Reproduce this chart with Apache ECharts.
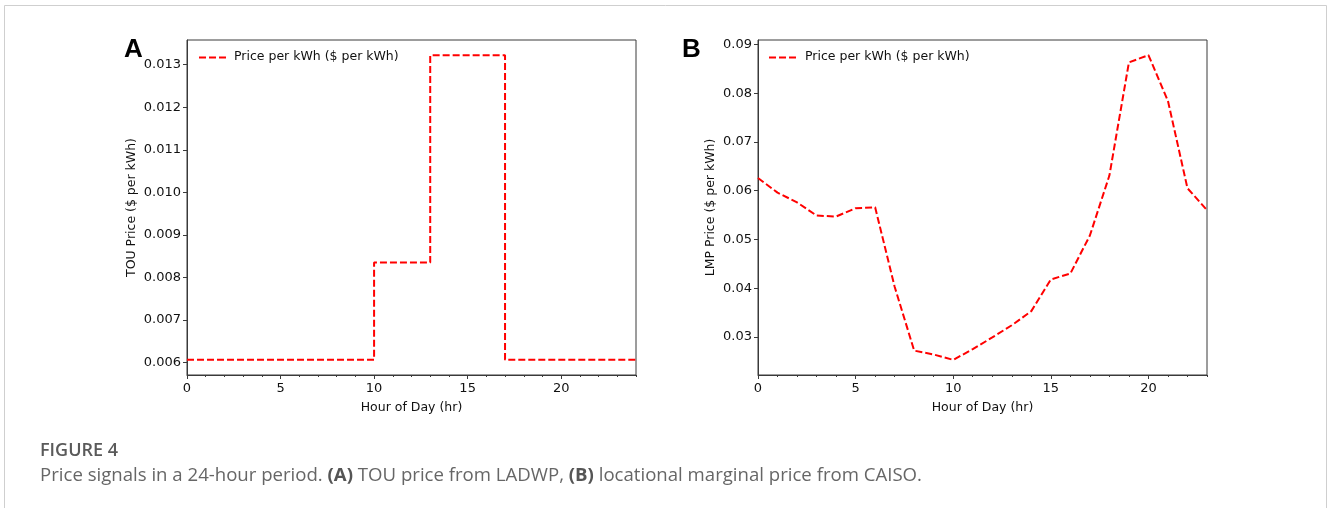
<!DOCTYPE html>
<html>
<head>
<meta charset="utf-8">
<script src="https://cdn.jsdelivr.net/npm/echarts@6/dist/echarts.min.js"></script>
<style>
html,body{margin:0;padding:0;background:#fff;}
#c{width:1328px;height:508px;}
</style>
</head>
<body>
<div id="c"></div>
<script>
// ---- Data ----
const seriesName = 'Price per kWh ($ per kWh)';
// Panel A: TOU price (step, value holds until next hour)
const touHours = [0,1,2,3,4,5,6,7,8,9,10,11,12,13,14,15,16,17,18,19,20,21,22,23,24];
const touPrice = [0.00607,0.00607,0.00607,0.00607,0.00607,0.00607,0.00607,0.00607,0.00607,0.00607,
                  0.00835,0.00835,0.00835,
                  0.01322,0.01322,0.01322,0.01322,
                  0.00607,0.00607,0.00607,0.00607,0.00607,0.00607,0.00607,0.00607];
// Panel B: LMP price
const lmpHours = [0,1,2,3,4,5,6,7,8,9,10,11,12,13,14,15,16,17,18,19,20,21,22,23];
const lmpPrice = [0.0626,0.0596,0.0576,0.0549,0.0547,0.0564,0.0566,0.0403,0.0272,0.0264,0.0253,0.0275,
                  0.0299,0.0324,0.0353,0.0418,0.0430,0.0508,0.0631,0.0863,0.0878,0.0784,0.0605,0.0560];
// Tick labels
const xTickLabels = [0,5,10,15,20];
const touTicks = [0.006,0.007,0.008,0.009,0.010,0.011,0.012,0.013];
const lmpTicks = [0.03,0.04,0.05,0.06,0.07,0.08,0.09];
const captionTitle = 'FIGURE 4';

const chart = echarts.init(document.getElementById('c'), null, {renderer:'canvas'});
const FONT = 'DejaVu Sans';
const frameColor = '#3a3a3a';
const red = '#ff0000';
const txt = '#111';

function xAxes(gridIndex, max){
  return [
    { type:'value', gridIndex, min:0, max:max, interval:1, position:'bottom',
      name:'Hour of Day (hr)', nameLocation:'middle', nameGap:26,
      nameTextStyle:{fontFamily:FONT,fontSize:12.5,color:txt},
      axisLine:{show:true,onZero:false,lineStyle:{color:frameColor,width:1}},
      axisTick:{show:true,length:2,lineStyle:{color:frameColor}},
      axisLabel:{show:true,customValues:xTickLabels,fontFamily:FONT,fontSize:13,color:txt,margin:7},
      splitLine:{show:false} },
    { type:'value', gridIndex, min:0, max:max, interval:1, position:'bottom',
      axisLine:{show:false,onZero:false},
      axisTick:{show:true,length:4,customValues:xTickLabels,lineStyle:{color:frameColor}},
      axisLabel:{show:false}, splitLine:{show:false} }
  ];
}
function yAxis(gridIndex, min, max, ticks, dec, name, gap){
  return { type:'value', gridIndex, min, max, position:'left',
    name, nameLocation:'middle', nameGap:gap,
    nameTextStyle:{fontFamily:FONT,fontSize:12.5,color:txt},
    axisLine:{show:true,onZero:false,lineStyle:{color:frameColor,width:1}},
    axisTick:{show:true,length:4,customValues:ticks,lineStyle:{color:frameColor}},
    axisLabel:{customValues:ticks,fontFamily:FONT,fontSize:13,color:txt,margin:6,
      formatter:v=>v.toFixed(dec)},
    splitLine:{show:false} };
}

const option = {
  backgroundColor:'#fff',
  animation:false,
  grid:[
    {left:187,top:40,width:449,height:335,show:true,borderColor:frameColor,borderWidth:1,backgroundColor:'transparent'},
    {left:758,top:40,width:449,height:335,show:true,borderColor:frameColor,borderWidth:1,backgroundColor:'transparent'}
  ],
  xAxis:[...xAxes(0,24), ...xAxes(1,23)],
  yAxis:[
    yAxis(0,0.00571,0.01358,touTicks,3,'TOU Price ($ per kWh)',49),
    yAxis(1,0.0222,0.0909,lmpTicks,2,'LMP Price ($ per kWh)',41)
  ],
  series:[
    { name:seriesName, type:'line', xAxisIndex:0, yAxisIndex:0, step:'end', symbol:'none',
      data:touHours.map((h,i)=>[h,touPrice[i]]),
      lineStyle:{color:red,width:2,type:[7,3]}, itemStyle:{color:red} },
    { name:seriesName, type:'line', xAxisIndex:2, yAxisIndex:1, symbol:'none',
      data:lmpHours.map((h,i)=>[h,lmpPrice[i]]),
      lineStyle:{color:red,width:2,type:[7,3]}, itemStyle:{color:red} }
  ],
  graphic:[
    {type:'rect',shape:{x:4.5,y:5.5,width:1322,height:600},style:{fill:null,stroke:'#cfcfcf',lineWidth:1},silent:true},
    {type:'text',left:124,top:37,style:{text:'A',font:'bold 26px "Liberation Sans"',fill:'#000'}},
    {type:'text',left:682,top:37,style:{text:'B',font:'bold 26px "Liberation Sans"',fill:'#000'}},
    // per-panel legend keys
    {type:'line',shape:{x1:199,y1:57.5,x2:227,y2:57.5},style:{stroke:red,lineWidth:2,lineDash:[7,3]}},
    {type:'text',left:234,top:50,style:{text:seriesName,font:'12.5px "DejaVu Sans"',fill:txt}},
    {type:'line',shape:{x1:769,y1:57.5,x2:797,y2:57.5},style:{stroke:red,lineWidth:2,lineDash:[7,3]}},
    {type:'text',left:805,top:50,style:{text:seriesName,font:'12.5px "DejaVu Sans"',fill:txt}},
    {type:'text',left:40,top:442,style:{text:captionTitle,font:'600 18px "Open Sans"',fill:'#5a5a5a'}},
    {type:'text',left:40,top:466,style:{
      text:'Price signals in a 24-hour period. {b|(A)} TOU price from LADWP, {b|(B)} locational marginal price from CAISO.',
      font:'18.6px "Open Sans"',fill:'#666',
      rich:{b:{fontFamily:'Open Sans',fontSize:18.6,fontWeight:'bold',fill:'#555',color:'#555'}}}}
  ]
};
chart.setOption(option);
</script>
</body>
</html>
